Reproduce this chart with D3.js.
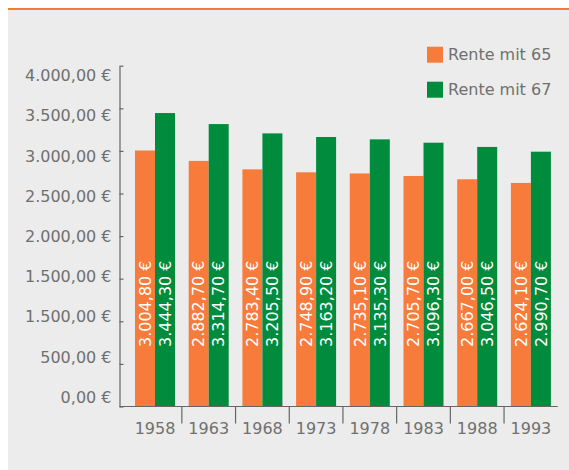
<!DOCTYPE html>
<html>
<head>
<meta charset="utf-8">
<script src="https://cdn.jsdelivr.net/npm/d3@7"></script>
<style>
  html, body { margin: 0; padding: 0; background: #fff; }
  svg text { font-family: "DejaVu Sans", sans-serif; font-weight: 400; }
</style>
</head>
<body>
<div id="chart"></div>
<script>
"use strict";

// data
const years = ["1958", "1963", "1968", "1973", "1978", "1983", "1988", "1993"];
const rente65 = [3004.80, 2882.70, 2783.40, 2748.90, 2735.10, 2705.70, 2667.00, 2624.10];
const rente67 = [3444.30, 3314.70, 3205.50, 3163.20, 3135.30, 3096.30, 3046.50, 2990.70];
const seriesNames = ["Rente mit 65", "Rente mit 67"];
const yTicks = [0, 500, 1000, 1500, 2000, 2500, 3000, 3500, 4000];
// tick labels as printed (the original repeats 1.500,00 €)
const yLabels = ["0,00 €", "500,00 €", "1.500,00 €", "1.500,00 €", "2.000,00 €",
                 "2.500,00 €", "3.000,00 €", "3.500,00 €", "4.000,00 €"];

const colors = ["#f77b3b", "#008c3c"];
const textGray = "#707070";

const W = 569, H = 470;

const de = d3.formatLocale({decimal: ",", thousands: ".", grouping: [3], currency: ["", " €"]});
const fmt = de.format("$,.2f");

const data = years.map((y, i) => ({year: y, values: [rente65[i], rente67[i]]}));

const svg = d3.select("#chart").append("svg")
    .attr("width", W)
    .attr("height", H);

// panel background + orange rule on top
svg.append("rect")
    .attr("x", 8).attr("y", 10)
    .attr("width", W - 8).attr("height", H - 10)
    .attr("fill", "#ebeceb");
svg.append("line")
    .attr("x1", 8).attr("x2", W)
    .attr("y1", 9).attr("y2", 9)
    .attr("stroke", "#f47a37")
    .attr("stroke-width", 2);

const axisX0 = 119.5, baseY = 406.5;

const y = d3.scaleLinear()
    .domain([0, 4000])
    .range([baseY, 65.7]);
// the labels are spaced a little tighter than the ticks in the original
const yLab = d3.scaleLinear()
    .domain([0, 4000])
    .range([396.7, 75]);

const x = d3.scaleBand()
    .domain(years)
    .range([128.15, 557.75])
    .paddingInner(0.255)
    .paddingOuter(0.1275);

const xSub = d3.scaleBand()
    .domain([0, 1])
    .range([0, x.bandwidth()]);

// bars
const groups = svg.append("g")
    .selectAll("g")
    .data(data)
    .enter().append("g")
    .attr("transform", d => `translate(${x(d.year)},0)`);

groups.selectAll("rect")
    .data(d => d.values.map((v, k) => ({k: k, v: v})))
    .enter().append("rect")
    .attr("x", d => xSub(d.k))
    .attr("y", d => y(d.v))
    .attr("width", xSub.bandwidth())
    .attr("height", d => baseY - y(d.v))
    .attr("fill", d => colors[d.k]);

groups.selectAll("text")
    .data(d => d.values.map((v, k) => ({k: k, v: v})))
    .enter().append("text")
    .attr("transform", d => `translate(${xSub(d.k) + xSub.bandwidth() / 2},347) rotate(-90)`)
    .attr("dy", "0.36em")
    .attr("fill", "#fff")
    .style("font-size", "16px")
    .text(d => fmt(d.v));

// y axis
const yAxis = svg.append("g")
    .attr("transform", `translate(${axisX0},0)`)
    .call(d3.axisLeft(y)
        .tickValues(yTicks)
        .tickSizeInner(-4)
        .tickSizeOuter(0)
        .tickFormat((d, i) => yLabels[i]));
yAxis.select(".domain").attr("stroke", "#666").attr("stroke-width", 1.2);
yAxis.selectAll(".tick line").attr("stroke", "#666").attr("stroke-width", 1.2);
yAxis.selectAll(".tick text")
    .attr("x", -8)
    .attr("y", d => yLab(d) - y(d))
    .attr("dy", "0.35em")
    .attr("fill", textGray)
    .style("font-size", "16px");

// x axis
const xAxis = svg.append("g")
    .attr("transform", `translate(0,${baseY})`)
    .call(d3.axisBottom(x).tickSize(0).tickPadding(16));
xAxis.select(".domain").remove();
xAxis.append("line")
    .attr("x1", axisX0).attr("x2", x.range()[1])
    .attr("stroke", "#666").attr("stroke-width", 1.2);
xAxis.selectAll(".sep")
    .data(years.slice(1))
    .enter().append("line")
    .attr("class", "sep")
    .attr("x1", d => x(d) - x.step() * x.paddingInner() / 2)
    .attr("x2", d => x(d) - x.step() * x.paddingInner() / 2)
    .attr("y1", 0).attr("y2", 17)
    .attr("stroke", "#666").attr("stroke-width", 1.2);
xAxis.selectAll(".tick text")
    .attr("fill", textGray)
    .style("font-size", "16px");

// legend
const legend = svg.append("g")
    .attr("transform", "translate(427,46.7)")
    .selectAll("g")
    .data(seriesNames)
    .enter().append("g")
    .attr("transform", (d, i) => `translate(0,${i * 35})`);
legend.append("rect")
    .attr("width", 16).attr("height", 16)
    .attr("fill", (d, i) => colors[i]);
legend.append("text")
    .attr("x", 21).attr("y", 8)
    .attr("dy", "0.35em")
    .attr("fill", textGray)
    .style("font-size", "16px")
    .text(d => d);
</script>
</body>
</html>
